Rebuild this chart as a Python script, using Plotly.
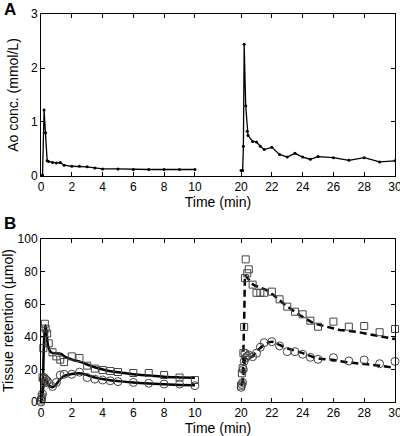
import plotly.graph_objects as go

# ---------------- data ----------------
# Panel A: aortic concentration (mmol/L)
ao_t1 = [0, 0.1, 0.2, 0.3, 0.4, 0.5, 0.75, 1.0, 1.25, 1.5, 2, 2.5, 3, 3.5, 4, 5, 6, 7, 8, 9, 10]
ao_c1 = [0.0, 0.02, 1.22, 0.80, 0.28, 0.27, 0.25, 0.24, 0.25, 0.20, 0.18, 0.18, 0.17, 0.15, 0.13, 0.13, 0.12, 0.12, 0.12, 0.12, 0.12]
ao_t2 = [20, 20.1, 20.15, 20.2, 20.3, 20.4, 20.45, 20.75, 21, 21.25, 21.5, 22, 22.5, 23, 23.5, 24, 24.5, 25, 26, 27, 28, 29, 30]
ao_c2 = [0.10, 0.10, 0.55, 2.44, 1.30, 0.83, 0.75, 0.64, 0.63, 0.55, 0.49, 0.53, 0.40, 0.35, 0.42, 0.35, 0.31, 0.36, 0.34, 0.29, 0.34, 0.26, 0.28]

# Panel B: tissue retention (umol), measured
tb_t1 = [0, 0.05, 0.1, 0.15, 0.2, 0.25, 0.3, 0.4, 0.5, 0.75, 1.0, 1.25, 1.5, 2, 2.5, 3, 3.5, 4, 4.5, 5, 6, 7, 8, 9, 10]
sq_1 = [1, 3, 15, 33, 42, 48, 45, 42, 36, 30.5, 28, 26, 24.5, 28, 27, 22.3, 20.5, 19.6, 19, 18.4, 17.8, 17.8, 16.6, 15, 13.5]
ci_1 = [0, 2, 5, 14, 15, 12, 14, 13, 11.5, 9.5, 12, 16.5, 17, 17, 18.3, 15, 14, 13.5, 13, 12.5, 12, 11.5, 11, 11, 10]
tb_t2 = [20, 20.05, 20.1, 20.15, 20.2, 20.25, 20.3, 20.4, 20.5, 20.75, 21, 21.25, 21.5, 22, 22.5, 23, 23.5, 24, 24.5, 25, 26, 27, 28, 29, 30]
sq_2 = [10, 17.6, 20.7, 30, 46, 76, 87.5, 79, 81.4, 72, 67, 67, 67, 67.7, 63, 58.5, 55.4, 53.8, 49.9, 46.2, 49.3, 46.2, 46.6, 42.8, 44.8]
ci_2 = [9, 10.8, 12, 20, 25, 30, 27, 28.2, 28.8, 27.8, 29.9, 33.6, 36.4, 37, 34.4, 30.9, 30.9, 29.3, 27.4, 26.2, 27.2, 25.2, 25.8, 23.5, 24.9]

# Panel B: model fits
fit_t1 = [0, 0.1, 0.2, 0.28, 0.35, 0.45, 0.6, 0.8, 1.1, 1.3, 1.6, 2.1, 2.6, 3, 3.6, 4.2, 5, 6, 7, 8, 9, 10]
fit_sq1 = [0, 8, 38, 47, 44, 35, 31, 30, 29.8, 29.5, 27.6, 25.8, 24.5, 23, 21, 19.5, 18.2, 17, 16.2, 15.5, 15.1, 14.8]
fit_ct1 = [0, 0.1, 0.2, 0.28, 0.4, 0.55, 0.75, 1.0, 1.3, 1.6, 2.0, 2.6, 3.0, 3.6, 4.2, 5, 6, 7, 8, 9, 10]
fit_ci1 = [0, 5, 12, 13.5, 12, 10, 9, 11, 14.5, 16.3, 17.2, 17.5, 16.5, 14.8, 13.8, 12.8, 12, 11.4, 10.9, 10.5, 10.2]
fit_t2 = [20, 20.1, 20.2, 20.25, 20.8, 21.65, 22.1, 22.95, 23.8, 24.7, 25.55, 26.4, 27.5, 28.6, 30]
fit_sq2 = [11, 12, 50, 78, 71.8, 68.7, 65.6, 58.9, 53.4, 48.3, 46.2, 44.2, 43.1, 41.1, 38.6]
fit_ct2 = [20, 20.1, 20.2, 20.3, 20.5, 20.75, 21, 21.5, 22, 22.5, 23, 24, 25, 26, 27, 28, 29, 30]
fit_ci2 = [10, 12, 22, 27, 27.5, 28, 31, 35, 37, 35, 33, 30, 26.8, 25.8, 24.2, 23.3, 22.3, 21]

# broken time axis: 10..20 min compressed to 3 axis units
GAP = 7
x_tickvals_min = [0, 2, 4, 6, 8, 10, 20, 22, 24, 26, 28, 30]
x_ticktext = [str(v) for v in x_tickvals_min]


def brk(ts):
    return [t if t <= 10 else t - GAP for t in ts]


FONT = "Arial, Liberation Sans, sans-serif"
fig = go.Figure()

line_a = dict(color="black", width=1.3)
for tt, cc in [(ao_t1, ao_c1), (ao_t2, ao_c2)]:
    fig.add_trace(go.Scatter(x=brk(tt), y=cc, mode="lines+markers", line=line_a,
                             marker=dict(size=3, color="black"),
                             xaxis="x", yaxis="y", showlegend=False))

# fits
fig.add_trace(go.Scatter(x=brk(fit_t1), y=fit_sq1, mode="lines", line=dict(color="black", width=2.5, shape="spline"),
                         xaxis="x2", yaxis="y2", showlegend=False))
fig.add_trace(go.Scatter(x=brk(fit_ct1), y=fit_ci1, mode="lines", line=dict(color="black", width=2.5, shape="spline"),
                         xaxis="x2", yaxis="y2", showlegend=False))
fig.add_trace(go.Scatter(x=brk(fit_t2), y=fit_sq2, mode="lines", line=dict(color="black", width=2.5, dash="7px,4px"),
                         xaxis="x2", yaxis="y2", showlegend=False))
fig.add_trace(go.Scatter(x=brk(fit_ct2), y=fit_ci2, mode="lines", line=dict(color="black", width=2.5, dash="7px,4px", shape="spline"),
                         xaxis="x2", yaxis="y2", showlegend=False))

mk_sq = dict(symbol="square-open", size=7, color="#444", line=dict(width=1, color="#444"))
mk_ci = dict(symbol="circle-open", size=8, color="#444", line=dict(width=1, color="#444"))
for tt, vv, mk in [(tb_t1, sq_1, mk_sq), (tb_t2, sq_2, mk_sq), (tb_t1, ci_1, mk_ci), (tb_t2, ci_2, mk_ci)]:
    fig.add_trace(go.Scatter(x=brk(tt), y=vv, mode="markers", marker=mk, cliponaxis=False,
                             xaxis="x2", yaxis="y2", showlegend=False))

ax_common = dict(showline=True, linecolor="black", linewidth=1, mirror="ticks", ticks="inside",
                 ticklen=4, tickcolor="black", showgrid=False, zeroline=False, automargin=False,
                 ticklabeloverflow="allow",
                 tickfont=dict(family=FONT, size=12, color="black"))
xcommon = dict(ax_common, range=[0, 23], tickvals=brk(x_tickvals_min), ticktext=x_ticktext,
               title=dict(text="Time (min)", font=dict(family=FONT, size=14, color="black"), standoff=0))

fig.update_layout(
    width=400, height=436,
    margin=dict(l=41, r=5, t=14, b=34),
    plot_bgcolor="white", paper_bgcolor="white",
    xaxis=dict(xcommon, domain=[0, 1], anchor="y"),
    yaxis=dict(ax_common, domain=[0.5825, 1], range=[0, 3], tickvals=[0, 1, 2, 3], anchor="x",
               title=dict(text="Ao conc. (mmol/L)", font=dict(family=FONT, size=14, color="black"), standoff=9)),
    xaxis2=dict(xcommon, domain=[0, 1], anchor="y2"),
    yaxis2=dict(ax_common, domain=[0, 0.4201], range=[0, 100], tickvals=[0, 20, 40, 60, 80, 100], anchor="x2",
                title=dict(text="Tissue retention (µmol)", font=dict(family=FONT, size=14, color="black"), standoff=2)),
    annotations=[
        dict(text="<b>A</b>", x=-0.110, y=1.012, xref="paper", yref="paper", xanchor="left", yanchor="middle",
             showarrow=False, font=dict(family=FONT, size=17, color="black")),
        dict(text="<b>B</b>", x=-0.110, y=0.459, xref="paper", yref="paper", xanchor="left", yanchor="middle",
             showarrow=False, font=dict(family=FONT, size=17, color="black")),
    ],
)

fig.write_html("out.html", config={"displayModeBar": False},
               post_script="document.body.style.margin='0';document.body.style.overflow='hidden';")
